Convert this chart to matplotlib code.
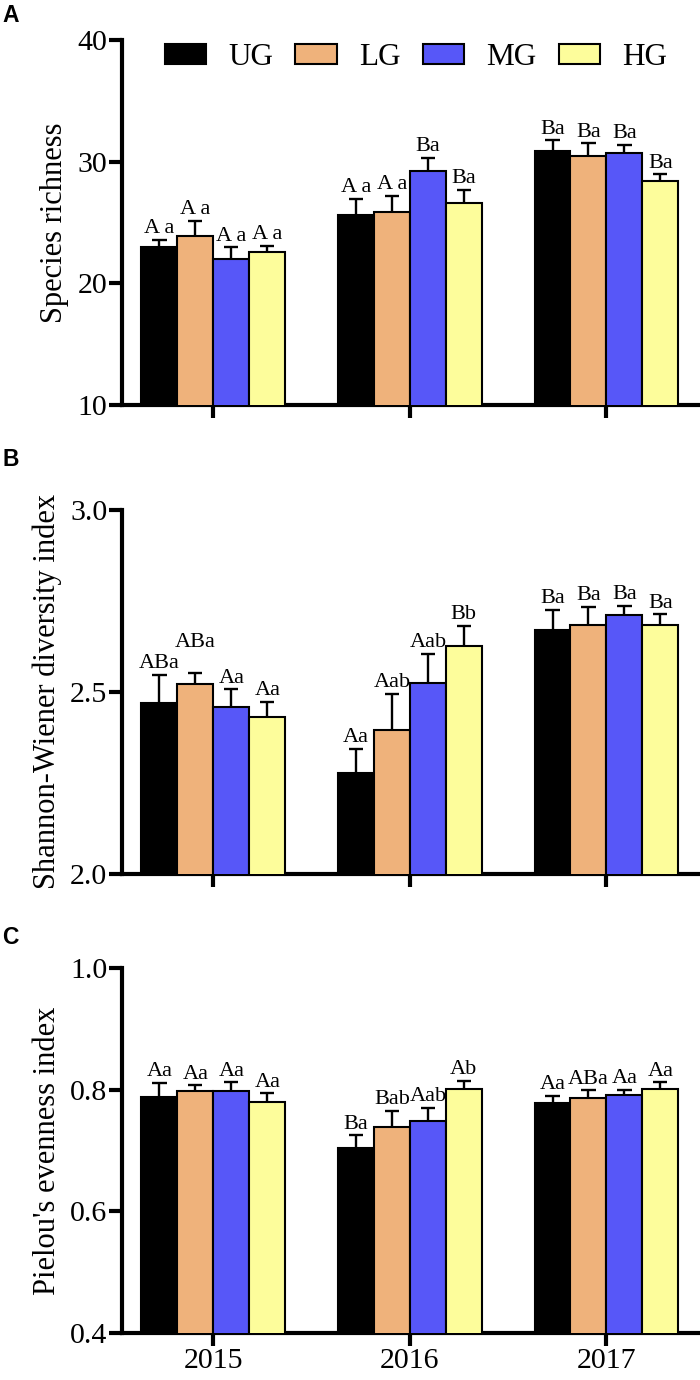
import matplotlib
matplotlib.use("Agg")
import matplotlib.pyplot as plt
import numpy as np
from matplotlib.patches import Patch

years = ["2015", "2016", "2017"]
treatments = ["UG", "LG", "MG", "HG"]
colors = ["#000000", "#EFB27B", "#5757F8", "#FDFD9B"]

# values per treatment, one entry per year
richness = {
    "UG": [23.0, 25.6, 30.9],
    "LG": [23.9, 25.9, 30.5],
    "MG": [22.0, 29.25, 30.75],
    "HG": [22.6, 26.6, 28.4],
}
richness_err = {
    "UG": [0.6, 1.35, 0.85],
    "LG": [1.25, 1.3, 1.0],
    "MG": [0.95, 1.05, 0.65],
    "HG": [0.5, 1.05, 0.55],
}
richness_lbl = {
    "UG": ["A a", "A a", "Ba"],
    "LG": ["A a", "A a", "Ba"],
    "MG": ["A a", "Ba", "Ba"],
    "HG": ["A a", "Ba", "Ba"],
}

shannon = {
    "UG": [2.469, 2.277, 2.669],
    "LG": [2.521, 2.396, 2.683],
    "MG": [2.459, 2.525, 2.712],
    "HG": [2.430, 2.627, 2.683],
}
shannon_err = {
    "UG": [0.077, 0.066, 0.057],
    "LG": [0.030, 0.098, 0.050],
    "MG": [0.048, 0.080, 0.025],
    "HG": [0.042, 0.055, 0.030],
}
shannon_lbl = {
    "UG": ["ABa", "Aa", "Ba"],
    "LG": ["ABa", "Aab", "Ba"],
    "MG": ["Aa", "Aab", "Ba"],
    "HG": ["Aa", "Bb", "Ba"],
}

pielou = {
    "UG": [0.788, 0.704, 0.778],
    "LG": [0.798, 0.739, 0.786],
    "MG": [0.798, 0.749, 0.792],
    "HG": [0.780, 0.802, 0.802],
}
pielou_err = {
    "UG": [0.023, 0.021, 0.012],
    "LG": [0.009, 0.026, 0.013],
    "MG": [0.014, 0.021, 0.008],
    "HG": [0.014, 0.012, 0.010],
}
pielou_lbl = {
    "UG": ["Aa", "Ba", "Aa"],
    "LG": ["Aa", "Bab", "ABa"],
    "MG": ["Aa", "Aab", "Aa"],
    "HG": ["Aa", "Ab", "Aa"],
}

SERIF = "Liberation Serif"
BAR_W = 0.183


def draw_panel(ax, data, err, labels, ylim, yticks, yticklabels, ylabel, lift, raise_lbl=None):
    x = np.arange(len(years))
    for i, t in enumerate(treatments):
        pos = x + (i - 1.5) * BAR_W
        ax.bar(pos, data[t], width=BAR_W, color=colors[i], edgecolor="black",
               linewidth=1.5, zorder=3)
        tops = np.array(data[t]) + np.array(err[t])
        ax.vlines(pos, data[t], tops, color="black", linewidth=1.7, zorder=2)
        ax.hlines(tops, pos - 0.036, pos + 0.036, color="black", linewidth=1.7, zorder=2)
        for j in range(len(years)):
            extra = 0
            if raise_lbl and (t, j) in raise_lbl:
                extra = raise_lbl[(t, j)]
            ax.text(pos[j], tops[j] + lift + extra, labels[t][j], ha="center", va="bottom",
                    fontsize=16, family=SERIF)
    ax.set_xlim(-0.466, 2.476)
    ax.set_ylim(*ylim)
    ax.set_yticks(yticks)
    ax.set_yticklabels(yticklabels, family=SERIF, fontsize=21.5)
    ax.set_xticks(x)
    ax.set_xticklabels([])
    ax.set_ylabel(ylabel, family=SERIF, fontsize=22, labelpad=6)
    for s in ["top", "right"]:
        ax.spines[s].set_visible(False)
    for s in ["left", "bottom"]:
        ax.spines[s].set_linewidth(3)
    ax.tick_params(axis="y", length=9.5, width=3, pad=1)
    ax.tick_params(axis="x", length=9, width=3, pad=1.5)


fig = plt.figure(figsize=(7, 13.8), dpi=100)
ax_a = fig.add_axes([0.174, 0.7065, 0.826, 0.2645])
ax_b = fig.add_axes([0.174, 0.3667, 0.826, 0.2638])
ax_c = fig.add_axes([0.174, 0.034, 0.826, 0.2645])

draw_panel(ax_a, richness, richness_err, richness_lbl, (10, 40), [10, 20, 30, 40],
           ["10", "20", "30", "40"], "Species richness", 0.15)
draw_panel(ax_b, shannon, shannon_err, shannon_lbl, (2.0, 3.0), [2.0, 2.5, 3.0],
           ["2.0", "2.5", "3.0"], "Shannon-Wiener diversity index", 0.005,
           raise_lbl={("LG", 0): 0.055})
draw_panel(ax_c, pielou, pielou_err, pielou_lbl, (0.4, 1.0), [0.4, 0.6, 0.8, 1.0],
           ["0.4", "0.6", "0.8", "1.0"], "Pielou's evenness index", 0.003)
ax_c.set_xticklabels(years, family=SERIF, fontsize=21.5)

handles = [Patch(facecolor=c, edgecolor="black", linewidth=1.5) for c in colors]
ax_a.legend(handles, treatments, loc="center left", bbox_to_anchor=(0.0744, 0.951), ncol=4,
            frameon=False, prop={"family": SERIF, "size": 22.5}, handlelength=1.32,
            handleheight=0.61, columnspacing=0.71, handletextpad=0.71,
            borderpad=0, borderaxespad=0)

for letter, yy in [("A", 0.997), ("B", 0.675), ("C", 0.329)]:
    fig.text(0.003, yy, letter, fontsize=16.5, fontweight="bold", family="Liberation Sans",
             va="top", ha="left")

fig.savefig("out.png", dpi=100)
